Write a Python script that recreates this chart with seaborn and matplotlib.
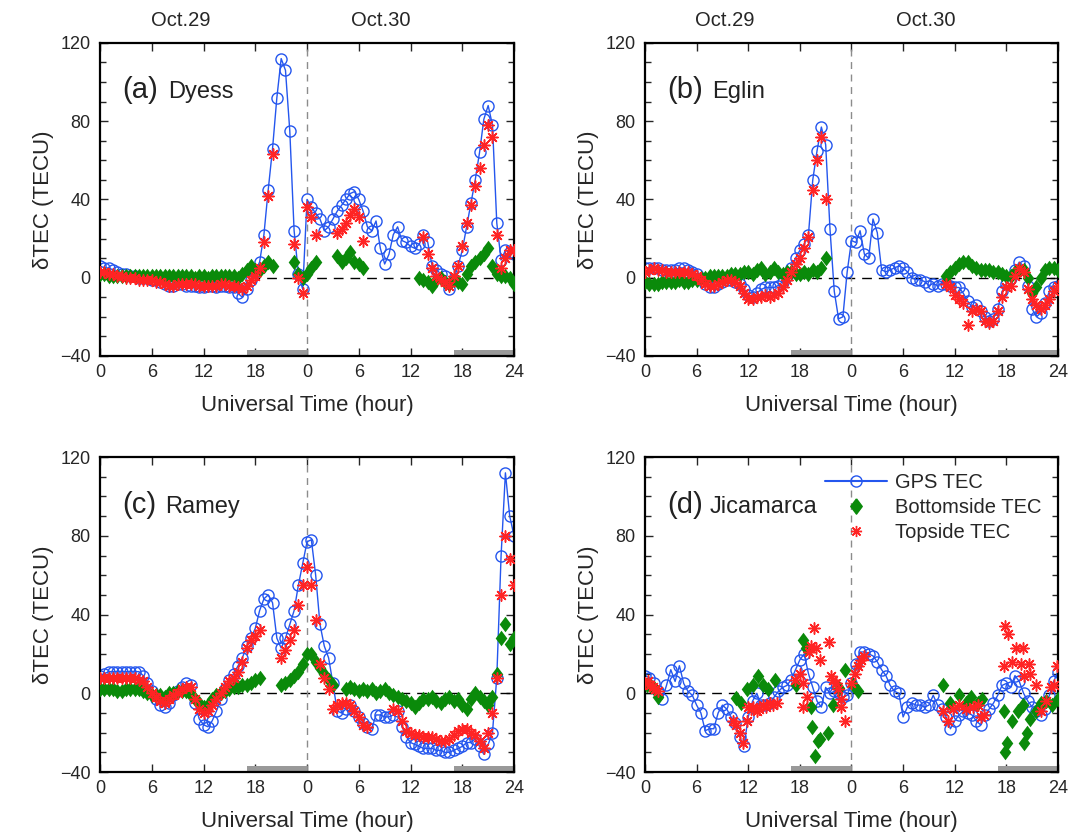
import numpy as np
import matplotlib
matplotlib.use('Agg')
import matplotlib.pyplot as plt
from matplotlib.lines import Line2D
from matplotlib.ticker import MultipleLocator
import seaborn as sns

nan = np.nan

# common half-hour grid, 0-48 h (two days, Oct.29 and Oct.30)
hours = np.arange(0, 48.5, 0.5)

# ---- (a) Dyess ----
dyess_gps = [6, 5, 5, 4, 3, 2, 2, 1, 1, 0, 0, 0,
             -1, -1, -2, -3, -4, -4, -3, -3, -4, -4, -4, -5,
             -5, -4, -4, -5, -4, -4, -5, -5, -8, -10, -6, -1,
             3, 8, 22, 45, 66, 92, 112, 106, 75, 24, 2, -6,
             40, 36, 33, 30, 24, 26, 30, 34, 37, 40, 43, 44,
             40, 34, 26, 24, 29, 15, 7, 12, 22, 26, 19, 18,
             16, 15, 17, 22, 18, 6, 4, 2, 1, -6, -1, 6,
             14, 26, 38, 50, 64, 81, 88, 78, 28, 9, 14, 13,
             12]
dyess_top = [3, 3, 2, 2, 1, 1, 0, 0, 0, -1, -1, -1,
             -1, -2, -2, -3, -4, -4, -3, -3, -3, -3, -3, -4,
             -4, -4, -4, -4, -3, -3, -4, -4, -5, -6, -4, -1,
             1, 5, 18, 42, 63, nan, nan, nan, nan, 17, 0, -8,
             36, 31, 22, nan, nan, nan, nan, 23, 25, 28, 32, 35,
             31, 19, nan, nan, nan, nan, nan, nan, nan, nan, nan, nan,
             nan, nan, nan, 21, 12, 5, 1, -1, -2, -4, 1, 6,
             16, 28, 37, 47, 56, 68, 78, 72, 22, 5, 10, 14,
             14]
dyess_bot = [2, 2, 1, 1, 1, 1, 1, 1, 1, 1, 1, 1,
             1, 1, 1, 1, 1, 1, 1, 1, 1, 1, 0, 1,
             1, 0, 1, 1, 1, 1, 1, 1, 0, 2, 4, 6,
             4, 4, 6, 8, 6, nan, nan, nan, nan, 8, 2, 0,
             2, 5, 8, nan, nan, nan, nan, 11, 8, 10, 13, 8,
             7, 5, nan, nan, nan, nan, nan, nan, nan, nan, nan, nan,
             nan, nan, 0, -1, -2, -4, -1, 0, -2, -3, -1, -2,
             -3, 2, 6, 8, 10, 12, 15, 6, 2, 1, 1, 0,
             -3]

# ---- (b) Eglin ----
eglin_gps = [5, 5, 5, 5, 4, 4, 4, 4, 5, 5, 4, 3,
             2, 0, -3, -5, -5, -3, -2, -1, -1, -2, -3, -6,
             -9, -10, -8, -6, -5, -5, -5, -4, -2, 1, 5, 10,
             14, 17, 22, 50, 65, 77, 68, 25, -7, -21, -20, 3,
             19, 18, 24, 12, 10, 30, 23, 4, 3, 4, 5, 6,
             5, 3, 0, -1, -1, -2, -4, -3, -4, -3, -3, -4,
             -5, -5, -8, -12, -15, -14, -17, -20, -22, -21, -16, -7,
             -3, 0, 4, 8, 6, -4, -16, -20, -18, -13, -7, -5,
             -4]
eglin_top = [3, 4, 5, 4, 4, 3, 3, 3, 3, 3, 3, 2,
             1, -1, -3, -4, -4, -3, -2, -1, -1, -2, -4, -8,
             -11, -11, -10, -10, -9, -10, -9, -8, -5, -1, 3, 7,
             10, 15, 21, 45, 60, 72, 40, nan, nan, nan, nan, nan,
             nan, nan, nan, nan, nan, nan, nan, nan, nan, nan, nan, nan,
             nan, nan, nan, nan, nan, nan, nan, nan, nan, nan, -3, -5,
             -9, -11, -13, -24, -17, -16, -17, -22, -23, -22, -17, -10,
             -5, -4, 1, 5, 3, -6, -11, -14, -16, -14, -11, -7,
             -4]
eglin_bot = [-2, -3, -3, -3, -2, -2, -2, -2, -1, -2, -2, -1,
             -1, 0, 0, 1, 1, 1, 1, 1, 2, 2, 2, 3,
             3, 2, 4, 5, 2, 3, 5, 3, 2, 3, 3, 2,
             2, 3, 2, 4, 3, 5, 10, nan, nan, nan, nan, nan,
             nan, nan, nan, nan, nan, nan, nan, nan, nan, nan, nan, nan,
             nan, nan, nan, nan, nan, nan, nan, nan, nan, nan, 1, 3,
             5, 7, 8, 8, 6, 5, 4, 4, 4, 3, 3, 2,
             1, 1, 3, 4, 4, 0, -8, -5, 0, 4, 5, 5,
             4]

# ---- (c) Ramey ----
ramey_gps = [9, 10, 11, 11, 11, 11, 11, 11, 11, 11, 9, 5,
             1, -3, -6, -7, -5, -1, 1, 3, 5, 4, -5, -13,
             -16, -17, -14, -9, -3, 2, 7, 10, 14, 18, 24, 28,
             33, 42, 48, 50, 46, 28, 23, 28, 35, 42, 55, 66,
             77, 78, 60, 35, 24, 18, 5, -9, -10, -8, -6, -9,
             -12, -15, -17, -18, -11, -11, -12, -12, -11, -9, -17, -22,
             -25, -26, -27, -28, -28, -28, -29, -29, -30, -30, -29, -28,
             -27, -25, -25, -23, -27, -31, -26, -20, 8, 70, 112, 90,
             80]
ramey_top = [8, 8, 8, 8, 8, 8, 8, 8, 8, 7, 6, 3,
             0, -2, -4, -5, -3, -1, 0, 2, 3, 3, -3, -8,
             -10, -9, -6, -3, 0, 3, 6, 8, 11, 16, 23, 27,
             29, 32, nan, nan, nan, nan, 18, 22, 27, 32, 45, 55,
             64, 55, 37, 15, 8, 2, -8, -6, -5, -5, -6, -9,
             -12, -16, -17, nan, nan, nan, nan, nan, -8, -9, -14, -19,
             -20, -21, -21, -22, -22, -22, -23, -24, -24, -23, -21, -19,
             -18, -18, -20, -21, -24, -28, -20, -10, 8, 50, 80, 68,
             55]
ramey_bot = [2, 2, 2, 2, 1, 1, 2, 2, 2, 2, 1, 0,
             -1, -1, -1, -2, 0, 0, 1, 1, 1, -1, -3, -5,
             -7, -6, -3, -1, 0, 1, 2, 3, 3, 4, 4, 5,
             7, 8, nan, nan, nan, nan, 4, 5, 7, 9, 11, 15,
             20, 20, 16, 13, 10, 7, 4, nan, nan, 2, 3, 2,
             1, 2, 1, 2, 0, 1, 2, 0, -1, -2, -3, -4,
             -5, -7, -5, -3, -3, -2, -4, -5, -3, -2, -4, -3,
             -6, -8, -3, 0, -2, -4, -6, -2, 10, 28, 35, 25,
             28]

# ---- (d) Jicamarca ----
jic_gps = [9, 8, 5, 1, -3, 4, 12, 6, 14, 5, 1, -1,
           -6, -10, -19, -18, -18, -10, -6, -8, -12, -15, -22, -27,
           -12, -4, 0, -6, -6, -5, -2, 1, 3, 4, 7, 12,
           17, 20, 10, 3, -4, -7, 3, 0, 1, 0, -2, -1,
           5, 15, 21, 21, 20, 19, 16, 12, 9, 4, 1, 0,
           -12, -7, -5, -6, -6, -7, -6, -1, -6, -8, -12, -18,
           -14, -11, -9, -10, -11, -14, -16, -11, -8, -5, -1, 4,
           5, 3, 9, 6, 0, -4, -7, -9, -11, -8, -1, 6,
           11]
jic_top_t = [0.0, 0.3, 0.6, 0.9, 1.2, 1.5,
             10.2, 10.6, 11.0, 11.4, 11.8, 12.0, 12.3, 12.6, 13.0, 13.3, 13.7, 14.1, 14.5, 14.9, 15.3,
             17.4, 18.0, 18.4, 18.4, 18.8, 19.1, 19.3, 19.7, 19.9, 20.3, 21.4, 21.6, 21.9, 22.2,
             22.4, 22.8, 22.8, 23.2,
             24.0, 24.4, 24.7, 25.1, 25.5,
             34.6, 35.2, 35.8, 36.5, 37.3, 38.1, 38.7, 39.0, 39.4,
             41.7, 41.9, 42.2, 42.7, 43.1, 43.9, 43.7, 44.6, 44.0, 44.8, 45.4, 46.0, 46.6, 47.2,
             47.5, 47.9]
jic_top_v = [5, 6, 4, 3, 2, 1,
             -14, -16, -20, -25, -14, -7, -8, -7, -9, -8, -6, -7, -5, -6, -5,
             7, 10, 5, -7, -2, 21, 24, 33, 23, 17, 26, 9, 7, 5,
             2, -3, -7, -14,
             5, 10, 14, 17, 19,
             -9, -14, -8, -6, -8, -7, -6, -12, -11,
             14, 34, 30, 16, 23, 23, 15, 15, 9, 10, 4, -9, -4, 3,
             4, 14]
jic_bot_t = [0.2, 0.6, 1.0, 1.5,
             10.6, 11.2, 11.8, 12.6, 13.1, 13.7, 14.3, 15.1,
             17.6, 18.4, 18.7, 19.3, 19.4, 19.8, 20.1, 20.3, 21.3, 21.8, 22.6, 23.2,
             24.2, 24.7,
             34.6, 35.4, 36.5, 37.3, 37.9, 38.7, 39.2,
             41.7, 42.1, 41.9, 42.6, 43.3, 43.9, 44.0, 44.4, 44.8, 45.4, 46.0, 46.6, 47.3, 48.0]
jic_bot_v = [4, 4, 2.5, -2,
             -2.5, -5, 2, 4, 9, 4, 2, 7,
             4, 27, 23, -7, -17, -32, -24, -23, -20, -6, 2.5, 12,
             4, 1,
             4, -5, -1, -5, -2, -5, -3,
             -9, -25, -30, -14, -9, -6, -25, -20, -13, -9, -5, -4, -6, -3]

# night-time intervals shown as grey bars on the time axis
night = [(17, 24), (41, 48)]
xtick_pos = [0, 6, 12, 18, 24, 30, 36, 42, 48]
xtick_lab = ['0', '6', '12', '18', '0', '6', '12', '18', '24']
ytick_pos = [-40, 0, 40, 80, 120]

panels = [
    ('(a)', 'Dyess', hours, dyess_gps, hours, dyess_bot, hours, dyess_top),
    ('(b)', 'Eglin', hours, eglin_gps, hours, eglin_bot, hours, eglin_top),
    ('(c)', 'Ramey', hours, ramey_gps, hours, ramey_bot, hours, ramey_top),
    ('(d)', 'Jicamarca', hours, jic_gps, jic_bot_t, jic_bot_v, jic_top_t, jic_top_v),
]
name_x = [0.164, 0.162, 0.157, 0.157]
boxes = [[0.0923, 0.5737, 0.3819, 0.3749], [0.5950, 0.5737, 0.3810, 0.3749],
         [0.0923, 0.0754, 0.3819, 0.3772], [0.5950, 0.0754, 0.3810, 0.3772]]

sns.set_style('ticks')
plt.rcParams['font.family'] = ['Liberation Sans', 'DejaVu Sans']

blue = '#2456ee'
green = '#0a8a0a'
red = '#ff2424'
diamond = [(0, 1), (0.75, 0), (0, -1), (-0.75, 0), (0, 1)]
star = (8, 2, 0)

fig = plt.figure(figsize=(10.84, 8.35), dpi=100)

for i, (tag, name, tg, gps, tb, bot, tt, top) in enumerate(panels):
    ax = fig.add_axes(boxes[i])
    ax.axhline(0, color='black', lw=1, dashes=(7, 5), zorder=1)
    ax.axvline(24, color='0.55', lw=1, dashes=(5, 4), zorder=1)
    for a, b in night:
        ax.axvspan(a, b, ymin=0, ymax=0.02, color='0.6', lw=0, zorder=1)

    sns.lineplot(x=tg, y=gps, ax=ax, color=blue, lw=1, marker='o', markersize=8,
                 markerfacecolor='none', markeredgecolor=blue, markeredgewidth=1, zorder=2)
    sns.scatterplot(x=tb, y=bot, ax=ax, marker=diamond, s=125, color=green,
                    edgecolor=green, linewidth=0, zorder=3)
    sns.scatterplot(x=tt, y=top, ax=ax, marker=star, s=65, color=red,
                    linewidth=1.1, zorder=4)

    ax.set_xlim(0, 48)
    ax.set_ylim(-40, 120)
    ax.set_xticks(xtick_pos)
    ax.set_xticklabels(xtick_lab)
    ax.set_yticks(ytick_pos)
    ax.yaxis.set_minor_locator(MultipleLocator(10))
    ax.tick_params(which='both', direction='in', top=True, right=True, labelsize=13, width=1)
    ax.tick_params(which='major', length=6)
    ax.tick_params(which='minor', length=4)
    ax.tick_params(axis='x', pad=6)
    ax.tick_params(axis='y', pad=7)
    for sp in ax.spines.values():
        sp.set_linewidth(1.6)
        sp.set_color('black')

    ax.set_xlabel('Universal Time (hour)', fontsize=16, labelpad=10)
    ax.set_ylabel('δTEC (TECU)', fontsize=16, labelpad=4)

    ax.text(0.053, 0.824, tag, transform=ax.transAxes, fontsize=21, color='#222222', va='baseline')
    ax.text(name_x[i], 0.824, name, transform=ax.transAxes, fontsize=17, color='#222222', va='baseline')

    if i < 2:
        ax.text(9.3, 1.073, 'Oct.29', transform=ax.get_xaxis_transform(), fontsize=14.5,
                ha='center', va='center')
        ax.text(32.6, 1.073, 'Oct.30', transform=ax.get_xaxis_transform(), fontsize=14.5,
                ha='center', va='center')

    if i == 3:
        handles = [
            Line2D([], [], color=blue, lw=1.5, marker='o', markersize=8,
                   markerfacecolor='none', markeredgecolor=blue),
            Line2D([], [], ls='none', marker=diamond, markersize=11, color=green),
            Line2D([], [], ls='none', marker=star, markersize=8, color=red),
        ]
        ax.legend(handles, ['GPS TEC', 'Bottomside TEC', 'Topside TEC'], loc='upper left',
                  bbox_to_anchor=(0.436, 0.95), frameon=False, fontsize=14.5, borderpad=0,
                  borderaxespad=0, handlelength=3.1, handletextpad=0.35, labelspacing=0.3,
                  numpoints=1)
    elif ax.get_legend() is not None:
        ax.get_legend().remove()

fig.savefig('out.png', dpi=100)
